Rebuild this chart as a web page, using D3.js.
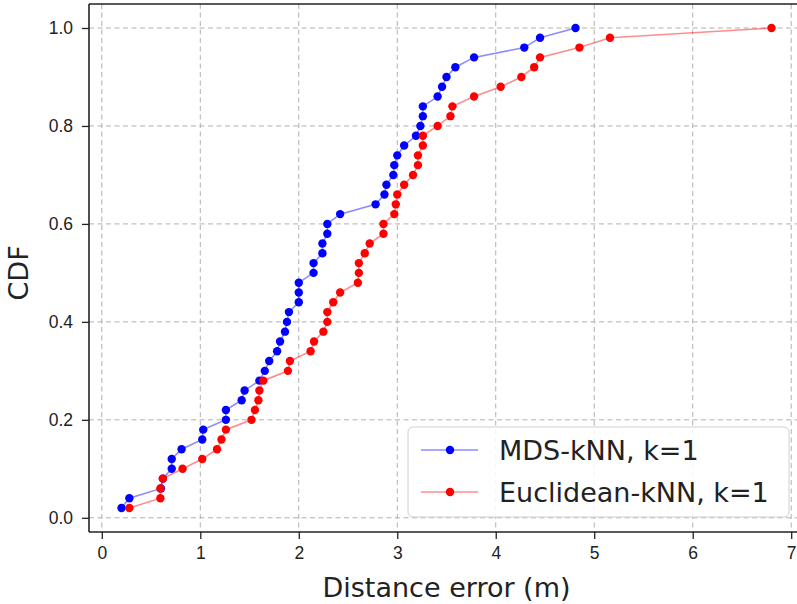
<!DOCTYPE html>
<html>
<head>
<meta charset="utf-8">
<script src="https://cdn.jsdelivr.net/npm/d3@7"></script>
<style>
  body { margin: 0; background: #fff; }
  svg { font-family: "DejaVu Sans", sans-serif; }
</style>
</head>
<body>
<svg id="chart" width="797" height="604"></svg>
<script>
// DATA
const cdfLevels = d3.range(1, 51).map((i) => i / 50);

const mdsErrors = [
  0.20, 0.28, 0.60, 0.62, 0.71, 0.71, 0.81, 1.02, 1.03, 1.26,
  1.26, 1.42, 1.45, 1.60, 1.655, 1.70, 1.78, 1.81, 1.86, 1.88,
  1.90, 2.00, 2.00, 2.00, 2.15, 2.15, 2.24, 2.24, 2.29, 2.29,
  2.42, 2.78, 2.87, 2.89, 2.96, 2.97, 3.00, 3.07, 3.19, 3.235,
  3.26, 3.26, 3.41, 3.455, 3.50, 3.59, 3.78, 4.29, 4.45, 4.81,
];

const euclidErrors = [
  0.28, 0.595, 0.595, 0.62, 0.82, 1.02, 1.17, 1.215, 1.26, 1.52,
  1.555, 1.59, 1.60, 1.64, 1.89, 1.91, 2.12, 2.155, 2.25, 2.29,
  2.29, 2.35, 2.42, 2.60, 2.61, 2.61, 2.67, 2.72, 2.86, 2.86,
  2.97, 2.985, 3.00, 3.07, 3.16, 3.21, 3.21, 3.26, 3.26, 3.41,
  3.54, 3.56, 3.78, 4.05, 4.26, 4.39, 4.45, 4.85, 5.16, 6.80,
];

const seriesNames = ["MDS-kNN, k=1", "Euclidean-kNN, k=1"];
const seriesColors = ["blue", "red"];
const xTicks = [0, 1, 2, 3, 4, 5, 6, 7];
const yTicks = [0, 0.2, 0.4, 0.6, 0.8, 1.0];

// CANVAS SETUP
const svg = d3.select("#chart");
const margin = { top: 4, right: -7, bottom: 72, left: 89 },
  width = 797 - margin.left - margin.right,
  height = 604 - margin.top - margin.bottom;

const g = svg.append("g").attr("transform", `translate(${margin.left},${margin.top})`);

const series = [mdsErrors, euclidErrors].map((xs, k) => ({
  name: seriesNames[k],
  color: seriesColors[k],
  points: xs.map((x, i) => ({ x: x, y: cdfLevels[i] })),
}));

// matplotlib style 5% margins
const xMin = 0.2, xMax = 6.8, yMin = 0.02, yMax = 1.0;
const xPad = (xMax - xMin) * 0.05, yPad = (yMax - yMin) * 0.05;

const xScale = d3.scaleLinear().domain([xMin - xPad, xMax + xPad]).range([0, width]);
const yScale = d3.scaleLinear().domain([yMin - yPad, yMax + yPad]).range([height, 0]);

// GRID
g.append("g")
  .selectAll("line")
  .data(xTicks)
  .join("line")
  .attr("x1", (d) => xScale(d))
  .attr("x2", (d) => xScale(d))
  .attr("y1", 0)
  .attr("y2", height)
  .attr("stroke", "#b0b0b0")
  .attr("stroke-width", 1)
  .attr("stroke-dasharray", "5,3.5");

g.append("g")
  .selectAll("line")
  .data(yTicks)
  .join("line")
  .attr("x1", 0)
  .attr("x2", width)
  .attr("y1", (d) => yScale(d))
  .attr("y2", (d) => yScale(d))
  .attr("stroke", "#b0b0b0")
  .attr("stroke-width", 1)
  .attr("stroke-dasharray", "5,3.5");

// AXES
const gx = g.append("g")
  .attr("transform", `translate(0,${height})`)
  .call(d3.axisBottom(xScale).tickValues(xTicks).tickFormat(d3.format("d")).tickSize(7).tickPadding(8));

const gy = g.append("g")
  .call(d3.axisLeft(yScale).tickValues(yTicks).tickFormat(d3.format(".1f")).tickSize(7).tickPadding(9));

[gx, gy].forEach((ax) => {
  ax.select(".domain").remove();
  ax.selectAll("line").attr("stroke", "#222").attr("stroke-width", 1.3);
  ax.selectAll("text").attr("fill", "#222").style("font-size", "17.5px");
});

// spines
g.append("line").attr("x1", 0).attr("x2", width).attr("y1", height).attr("y2", height)
  .attr("stroke", "#222").attr("stroke-width", 1.6);
g.append("line").attr("x1", 0).attr("x2", width).attr("y1", 0).attr("y2", 0)
  .attr("stroke", "#222").attr("stroke-width", 1.6);
g.append("line").attr("x1", 0).attr("x2", 0).attr("y1", 0).attr("y2", height)
  .attr("stroke", "#222").attr("stroke-width", 1.6);

// LABELS
svg.append("text")
  .attr("x", margin.left + width / 2)
  .attr("y", 597)
  .attr("text-anchor", "middle")
  .attr("fill", "#222")
  .style("font-size", "27px")
  .text("Distance error (m)");

svg.append("text")
  .attr("transform", `translate(28,${margin.top + yScale(0.5)}) rotate(-90)`)
  .attr("text-anchor", "middle")
  .attr("fill", "#222")
  .style("font-size", "27px")
  .text("CDF");

// RENDER SERIES
const line = d3.line().x((d) => xScale(d.x)).y((d) => yScale(d.y));

series.forEach((s) => {
  const sg = g.append("g");
  sg.append("path")
    .datum(s.points)
    .attr("fill", "none")
    .attr("stroke", s.color)
    .attr("stroke-opacity", 0.45)
    .attr("stroke-width", 1.6)
    .attr("d", line);
  sg.selectAll("circle")
    .data(s.points)
    .join("circle")
    .attr("cx", (d) => xScale(d.x))
    .attr("cy", (d) => yScale(d.y))
    .attr("r", 4.2)
    .attr("fill", s.color);
});

// LEGEND
const lx = 408 - margin.left, ly = 427 - margin.top;
const legend = g.append("g").attr("transform", `translate(${lx},${ly})`);
legend.append("rect")
  .attr("width", 381)
  .attr("height", 90)
  .attr("rx", 5)
  .attr("fill", "white")
  .attr("fill-opacity", 0.85)
  .attr("stroke", "#d0d0d0")
  .attr("stroke-width", 1);

const rows = legend.selectAll("g.row")
  .data(series)
  .join("g")
  .attr("class", "row")
  .attr("transform", (d, i) => `translate(0,${23 + i * 42})`);

rows.append("line")
  .attr("x1", 13).attr("x2", 70)
  .attr("stroke", (d) => d.color)
  .attr("stroke-opacity", 0.45)
  .attr("stroke-width", 1.6);
rows.append("circle").attr("cx", 42).attr("r", 4.2).attr("fill", (d) => d.color);
rows.append("text")
  .attr("x", 91)
  .attr("dy", "0.36em")
  .attr("fill", "#222")
  .style("font-size", "27px")
  .text((d) => d.name);
</script>
</body>
</html>
